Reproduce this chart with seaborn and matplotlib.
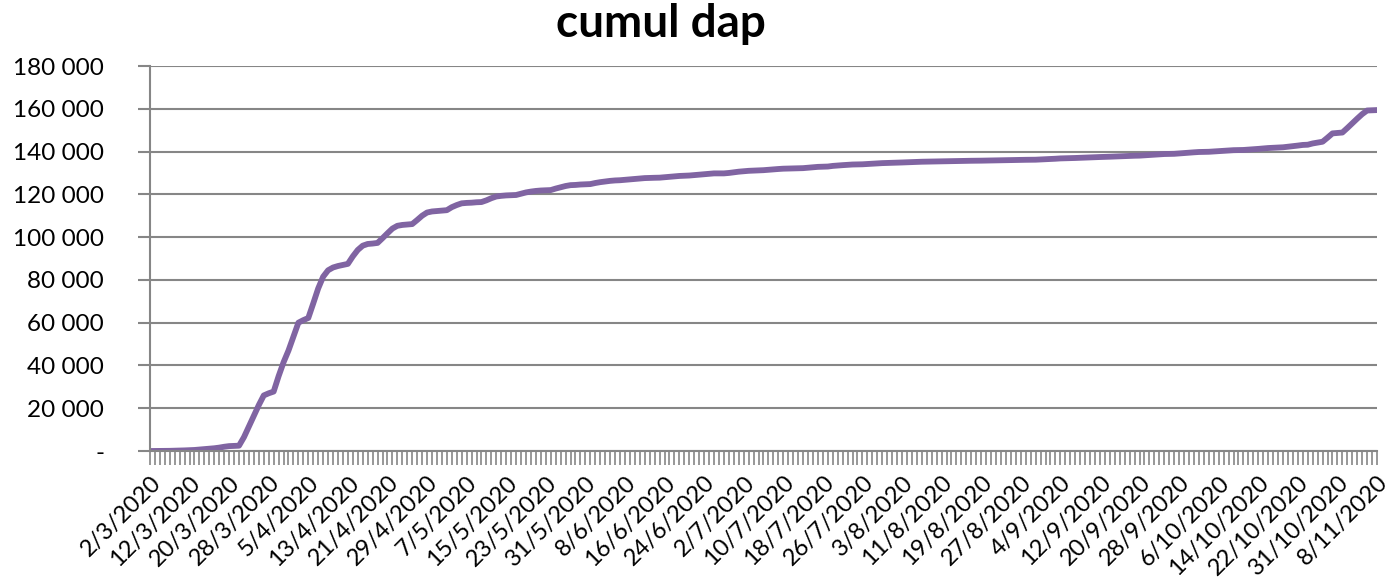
import numpy as np
import pandas as pd
import matplotlib
matplotlib.use("Agg")
import matplotlib.pyplot as plt
import seaborn as sns
from matplotlib.ticker import FuncFormatter, MultipleLocator

# days with no figure in the source sheet
missing = ["2020-03-07", "2020-03-08", "2020-10-25"]
dates = [d for d in pd.date_range("2020-03-02", "2020-11-08") if d.strftime("%Y-%m-%d") not in missing]
labels = [f"{d.day}/{d.month}/{d.year}" for d in dates]

# cumul (one value per date)
cumul = [
    10, 20, 40, 60, 100,
    150, 200, 300, 400, 500, 700, 900,
    1100, 1300, 1600, 2000,
    2300, 2400, 2500,
    6500, 11500, 16500, 21500, 26000, 27000, 27800,
    35000, 41500, 47000, 53500, 60000, 61200, 62200,
    69000, 76000, 81500, 84500, 85800, 86500, 87000, 87500,
    91000, 94000, 96000, 96800, 97000, 97300,
    99500, 101800, 104000, 105300, 105700, 105900, 106100,
    108000, 110000, 111500, 112000, 112200, 112400, 112600,
    114000, 115000, 115800, 116000, 116100, 116300, 116400,
    117200, 118200, 119000, 119300, 119500, 119600, 119700,
    120300, 120900, 121300, 121600, 121800, 121900, 122000,
    122700, 123300, 123900, 124300, 124400, 124600, 124700, 124800,
    125300, 125700, 126000, 126300, 126500, 126600, 126800,
    127000, 127200, 127400, 127600, 127700, 127750, 127800,
    128000, 128200, 128400, 128600, 128700, 128800, 129000,
    129200, 129400, 129600, 129800, 129800, 129800,
    130000, 130300, 130600, 130800, 131000, 131100, 131150,
    131300, 131500, 131700, 131850, 132000, 132050, 132100,
    132200, 132250, 132450, 132650, 132850, 132900, 133000,
    133300, 133500, 133650, 133800, 133950, 134000, 134050,
    134200, 134400, 134500, 134600, 134700, 134750, 134800,
    134900, 135000, 135050, 135150, 135250, 135300, 135300,
    135350, 135400, 135450, 135500, 135550, 135600, 135650,
    135700, 135700, 135750, 135800, 135850, 135850, 135900,
    135950, 136000, 136050, 136100, 136150, 136150, 136200,
    136300, 136400, 136500, 136650, 136800, 136850, 136900,
    137000, 137100, 137200, 137300, 137400, 137450, 137500,
    137600, 137700, 137800, 137900, 138000, 138050, 138100,
    138250, 138400, 138550, 138700, 138850, 138900, 138950,
    139100, 139300, 139500, 139650, 139800, 139850, 139900,
    140050, 140200, 140350, 140500, 140650, 140700, 140750,
    140900, 141050, 141250, 141450, 141650, 141750, 141800,
    142000, 142250, 142500, 142800, 143100, 143200,
    143800, 144200, 144600, 146500, 148500, 148700, 148900,
    151000, 153200, 155400, 157500, 159200, 159300, 159400,
]
assert len(cumul) == len(dates)

df = pd.DataFrame({"pos": np.arange(len(dates)), "cumul": cumul})

sns.set_style("white")
plt.rcParams["font.family"] = ["Lato", "DejaVu Sans"]
plt.rcParams["text.color"] = "black"

grey = "#868686"
fig = plt.figure(figsize=(13.95, 5.79), dpi=100)
ax = fig.add_axes([0.1075, 0.221, 0.8796, 0.665])

sns.lineplot(data=df, x="pos", y="cumul", ax=ax, color="#8064A2", linewidth=4.2)

ax.set_xlim(0, len(dates) - 1)
ax.set_ylim(0, 180000)
ax.yaxis.set_major_locator(MultipleLocator(20000))
ax.yaxis.set_major_formatter(FuncFormatter(lambda v, p: "-" if v == 0 else f"{int(v):,}".replace(",", " ")))
ax.grid(axis="y", color=grey, linewidth=1.5)
ax.set_axisbelow(True)

step = 8
ax.set_xticks(df["pos"][::step])
ax.set_xticklabels(labels[::step], rotation=45, ha="right", va="top", rotation_mode="anchor")
ax.set_xticks(df["pos"], minor=True)
ax.tick_params(axis="x", which="both", direction="out", length=10, width=1.2, color=grey,
               labelcolor="black", bottom=True, labelsize=17, pad=5)
ax.tick_params(axis="y", direction="out", length=9, width=1.5, color=grey, labelcolor="black",
               left=True, labelsize=17.5, pad=24)

for side in ["top", "right"]:
    ax.spines[side].set_visible(False)
for side in ["left", "bottom"]:
    ax.spines[side].set_color(grey)
    ax.spines[side].set_linewidth(1.5)

ax.set_xlabel("")
ax.set_ylabel("")
fig.suptitle("cumul dap", fontsize=33, fontweight="bold", color="black", x=0.474, y=0.995)

fig.savefig("out.png", dpi=100)
